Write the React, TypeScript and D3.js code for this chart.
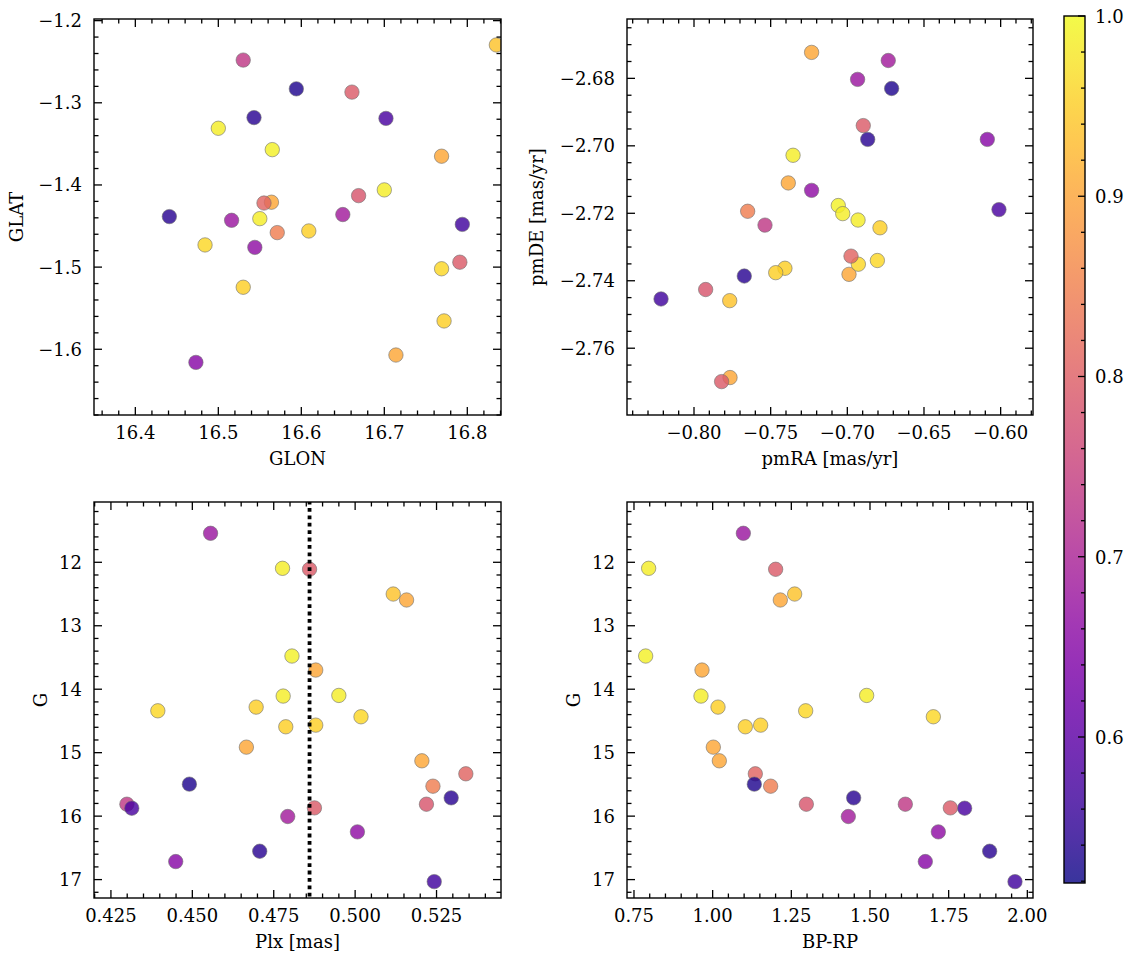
import React from "react";
import * as d3 from "d3";

// ---- data (one entry per star) ----
const glon = [16.516, 16.5, 16.661, 16.835, 16.769, 16.565, 16.564, 16.7, 16.55, 16.609, 16.484, 16.769, 16.53, 16.772, 16.714, 16.87, 16.555, 16.571, 16.594, 16.543, 16.53, 16.702, 16.669, 16.791, 16.65, 16.544, 16.441, 16.473, 16.794];
const glat = [-1.443, -1.331, -1.287, -1.2296, -1.365, -1.357, -1.421, -1.406, -1.441, -1.456, -1.473, -1.502, -1.5245, -1.5655, -1.607, -1.38, -1.422, -1.458, -1.283, -1.318, -1.248, -1.319, -1.413, -1.494, -1.436, -1.476, -1.4385, -1.616, -1.448];
const pmra = [-0.6933, -0.7354, -0.6896, -0.7767, -0.7233, -0.7059, -0.6989, -0.703, -0.693, -0.6787, -0.6928, -0.6804, -0.7407, -0.7467, -0.7385, -0.7765, -0.6976, -0.765, -0.6711, -0.6867, -0.7537, -0.6011, -0.7924, -0.782, -0.6733, -0.7233, -0.7672, -0.6087, -0.8215];
const pmde = [-2.6803, -2.7028, -2.694, -2.7459, -2.6723, -2.7177, -2.7381, -2.7201, -2.722, -2.7243, -2.7351, -2.734, -2.7363, -2.7376, -2.711, -2.7687, -2.7327, -2.7194, -2.683, -2.6981, -2.7235, -2.7189, -2.7426, -2.7699, -2.6747, -2.7132, -2.7386, -2.6981, -2.7454];
const plx = [0.4556, 0.4777, 0.486, 0.5117, 0.5158, 0.4806, 0.4879, 0.4779, 0.495, 0.4696, 0.4394, 0.5018, 0.4787, 0.4879, 0.4666, 0.5205, 0.534, 0.5239, 0.4491, 0.5295, 0.4299, 0.4314, 0.5219, 0.4875, 0.4793, 0.5007, 0.4707, 0.4449, 0.5243];
const gmag = [11.543, 12.095, 12.11, 12.5, 12.594, 13.477, 13.698, 14.108, 14.098, 14.282, 14.34, 14.434, 14.592, 14.566, 14.913, 15.128, 15.333, 15.528, 15.496, 15.712, 15.812, 15.875, 15.812, 15.87, 16.006, 16.248, 16.553, 16.716, 17.032];
const bprp = [1.0975, 0.7966, 1.2002, 1.2606, 1.215, 0.7871, 0.9661, 0.9629, 1.4894, 1.017, 1.2956, 1.7013, 1.1038, 1.1525, 1.0021, 1.0212, 1.1356, 1.1843, 1.1324, 1.4481, 1.6123, 1.8008, 1.2977, 1.7553, 1.4311, 1.7172, 1.8803, 1.6758, 1.9608];
const prob = [0.678, 0.985, 0.793, 0.937, 0.904, 0.99, 0.904, 0.985, 0.985, 0.952, 0.962, 0.962, 0.952, 0.952, 0.904, 0.904, 0.808, 0.846, 0.533, 0.543, 0.735, 0.577, 0.784, 0.793, 0.687, 0.663, 0.543, 0.654, 0.567];
const plxRef = 0.486;

// ---- axis ticks ----
const glonTicks = [16.4, 16.5, 16.6, 16.7, 16.8];
const glatTicks = [-1.2, -1.3, -1.4, -1.5, -1.6];
const pmraTicks = [-0.8, -0.75, -0.7, -0.65, -0.6];
const pmdeTicks = [-2.68, -2.7, -2.72, -2.74, -2.76];
const plxTicks = [0.425, 0.45, 0.475, 0.5, 0.525];
const gTicks = [12, 13, 14, 15, 16, 17];
const bprpTicks = [0.75, 1.0, 1.25, 1.5, 1.75, 2.0];
const cbarTicks = [0.6, 0.7, 0.8, 0.9, 1.0];

const probDomain = [0.519, 1.0];

const FONT = "DejaVu Serif";
const FS = 18;
const LS = 0;

const color = d3.scaleSequential(d3.interpolatePlasma).domain(probDomain as [number, number]);

function fmt(v: number, d: number) {
  const s = Math.abs(v).toFixed(d);
  return (v < 0 ? "\u2212" : "") + s;
}

function minorTicks(domain: number[], step: number) {
  const lo = Math.min(domain[0], domain[1]);
  const hi = Math.max(domain[0], domain[1]);
  const out: number[] = [];
  const start = Math.ceil(lo / step - 1e-6);
  const end = Math.floor(hi / step + 1e-6);
  for (let k = start; k <= end; k++) out.push(k * step);
  return out;
}

type PanelProps = {
  id: string;
  left: number; right: number; top: number; bottom: number;
  xDomain: number[]; yDomain: number[];
  xs: number[]; ys: number[];
  xTicks: number[]; yTicks: number[];
  xMinor: number; yMinor: number;
  xDec: number; yDec: number;
  xLabel: string; yLabel: string;
  yLabelOffset: number;
  vline?: number;
};

function Panel(p: PanelProps) {
  const x = d3.scaleLinear().domain(p.xDomain).range([p.left, p.right]);
  const y = d3.scaleLinear().domain(p.yDomain).range([p.bottom, p.top]);
  const MAJ = 8, MIN = 4.5, TW = 1.3;
  const xm = minorTicks(p.xDomain, p.xMinor);
  const ym = minorTicks(p.yDomain, p.yMinor);
  const isMajor = (v: number, ticks: number[]) => ticks.some(t => Math.abs(t - v) < 1e-7);
  const cx = (p.left + p.right) / 2;
  const cy = (p.top + p.bottom) / 2;
  return (
    <g>
      <defs>
        <clipPath id={p.id}>
          <rect x={p.left} y={p.top} width={p.right - p.left} height={p.bottom - p.top} />
        </clipPath>
      </defs>
      <g clipPath={`url(#${p.id})`}>
        {p.xs.map((xv, i) => (
          <circle key={i} cx={x(xv)} cy={y(p.ys[i])} r={7.2}
            fill={color(prob[i])} fillOpacity={0.82}
            stroke="#6e6e6e" strokeOpacity={0.75} strokeWidth={0.8} />
        ))}
        {p.vline !== undefined && (
          <line x1={x(p.vline)} x2={x(p.vline)} y1={p.top} y2={p.bottom}
            stroke="#000" strokeWidth={3.8} strokeDasharray="3.8 3.6" strokeDashoffset={-6} />
        )}
      </g>
      {xm.filter(v => !isMajor(v, p.xTicks)).map((v, i) => (
        <g key={"xm" + i} stroke="#000" strokeWidth={TW}>
          <line x1={x(v)} x2={x(v)} y1={p.bottom} y2={p.bottom - MIN} />
          <line x1={x(v)} x2={x(v)} y1={p.top} y2={p.top + MIN} />
        </g>
      ))}
      {ym.filter(v => !isMajor(v, p.yTicks)).map((v, i) => (
        <g key={"ym" + i} stroke="#000" strokeWidth={TW}>
          <line x1={p.left} x2={p.left + MIN} y1={y(v)} y2={y(v)} />
          <line x1={p.right} x2={p.right - MIN} y1={y(v)} y2={y(v)} />
        </g>
      ))}
      {p.xTicks.map((v, i) => (
        <g key={"xM" + i}>
          <line x1={x(v)} x2={x(v)} y1={p.bottom} y2={p.bottom - MAJ} stroke="#000" strokeWidth={TW} />
          <line x1={x(v)} x2={x(v)} y1={p.top} y2={p.top + MAJ} stroke="#000" strokeWidth={TW} />
          <text x={x(v)} y={p.bottom + 24} textAnchor="middle" fontFamily={FONT} fontSize={FS} letterSpacing={LS}>{fmt(v, p.xDec)}</text>
        </g>
      ))}
      {p.yTicks.map((v, i) => (
        <g key={"yM" + i}>
          <line x1={p.left} x2={p.left + MAJ} y1={y(v)} y2={y(v)} stroke="#000" strokeWidth={TW} />
          <line x1={p.right} x2={p.right - MAJ} y1={y(v)} y2={y(v)} stroke="#000" strokeWidth={TW} />
          <text x={p.left - 12} y={y(v) + 6.5} textAnchor="end" fontFamily={FONT} fontSize={FS} letterSpacing={LS}>{fmt(v, p.yDec)}</text>
        </g>
      ))}
      <rect x={p.left} y={p.top} width={p.right - p.left} height={p.bottom - p.top} fill="none" stroke="#000" strokeWidth={1.4} />
      <text x={cx} y={p.bottom + 50} textAnchor="middle" fontFamily={FONT} fontSize={FS} letterSpacing={LS}>{p.xLabel}</text>
      <text transform={`translate(${p.left - p.yLabelOffset},${cy}) rotate(-90)`} textAnchor="middle" fontFamily={FONT} fontSize={FS} letterSpacing={LS}>{p.yLabel}</text>
    </g>
  );
}

function Colorbar() {
  const left = 1064, right = 1085, top = 16, bottom = 883;
  const s = d3.scaleLinear().domain(probDomain).range([bottom, top]);
  const stops = d3.range(0, 1.0001, 0.05);
  const minor = minorTicks(probDomain, 0.02).filter(v => !cbarTicks.some(t => Math.abs(t - v) < 1e-7));
  return (
    <g>
      <defs>
        <linearGradient id="cbar" x1="0" y1="1" x2="0" y2="0">
          {stops.map((t, i) => (
            <stop key={i} offset={t} stopColor={d3.interpolatePlasma(t)} />
          ))}
        </linearGradient>
      </defs>
      <rect x={left} y={top} width={right - left} height={bottom - top} fill="url(#cbar)" fillOpacity={0.82} />
      {minor.map((v, i) => (
        <line key={"m" + i} x1={right} x2={right - 4} y1={s(v)} y2={s(v)} stroke="#000" strokeWidth={1.3} />
      ))}
      {cbarTicks.map((v, i) => (
        <g key={i}>
          <line x1={right} x2={right - 7} y1={s(v)} y2={s(v)} stroke="#000" strokeWidth={1.3} />
          <text x={right + 10} y={s(v) + 7} fontFamily={FONT} fontSize={FS} letterSpacing={LS}>{v.toFixed(1)}</text>
        </g>
      ))}
      <rect x={left} y={top} width={right - left} height={bottom - top} fill="none" stroke="#000" strokeWidth={1.4} />
    </g>
  );
}

export default function App() {
  return (
    <svg width={1133} height={965} style={{ position: "absolute", left: 0, top: 0, background: "#fff" }}>
      <rect width={1133} height={965} fill="#fff" />
      <Panel id="c1" left={94} right={501} top={19} bottom={415}
        xDomain={[16.3502, 16.8406]} yDomain={[-1.68, -1.198]}
        xs={glon} ys={glat} xTicks={glonTicks} yTicks={glatTicks}
        xMinor={0.02} yMinor={0.02} xDec={1} yDec={1}
        xLabel="GLON" yLabel="GLAT" yLabelOffset={71} />
      <Panel id="c2" left={627} right={1033} top={19} bottom={415}
        xDomain={[-0.8437, -0.5789]} yDomain={[-2.7798, -2.6624]}
        xs={pmra} ys={pmde} xTicks={pmraTicks} yTicks={pmdeTicks}
        xMinor={0.01} yMinor={0.005} xDec={2} yDec={2}
        xLabel="pmRA [mas/yr]" yLabel="pmDE [mas/yr]" yLabelOffset={84} />
      <Panel id="c3" left={94} right={501} top={502} bottom={898}
        xDomain={[0.4198, 0.5448]} yDomain={[17.29, 11.05]}
        xs={plx} ys={gmag} xTicks={plxTicks} yTicks={gTicks}
        xMinor={0.005} yMinor={0.2} xDec={3} yDec={0}
        xLabel="Plx [mas]" yLabel="G" yLabelOffset={47} vline={plxRef} />
      <Panel id="c4" left={627} right={1033} top={502} bottom={898}
        xDomain={[0.7278, 2.018]} yDomain={[17.29, 11.05]}
        xs={bprp} ys={gmag} xTicks={bprpTicks} yTicks={gTicks}
        xMinor={0.05} yMinor={0.2} xDec={2} yDec={0}
        xLabel="BP-RP" yLabel="G" yLabelOffset={47} />
      <Colorbar />
    </svg>
  );
}
